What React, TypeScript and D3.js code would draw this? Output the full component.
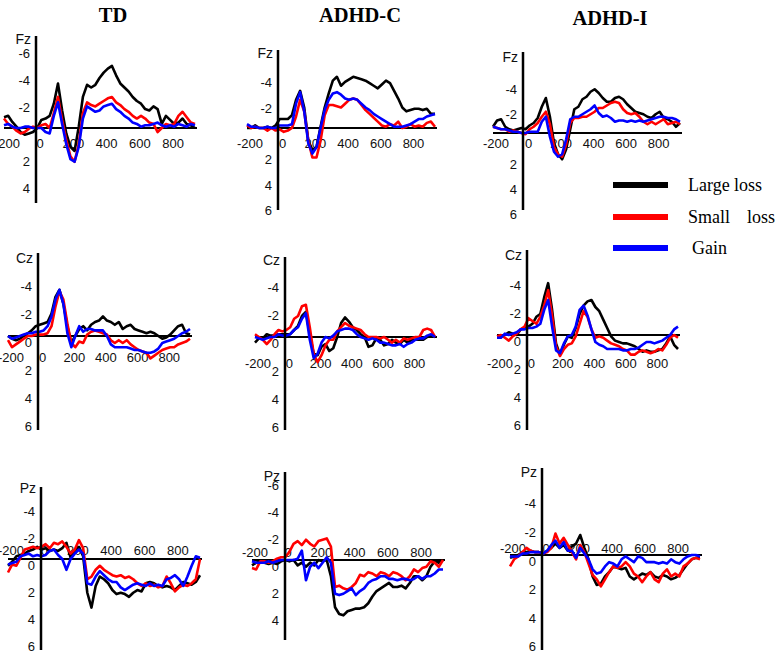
import React from 'react';
import * as d3 from 'd3';

// sampling grid of the averaged waveforms (ms)
const times = d3.range(-200, 951, 25);
const xTickValues = [-200, 0, 200, 400, 600, 800];
const groups = ['TD', 'ADHD-C', 'ADHD-I'];
const conditions = ['Large loss', 'Small loss', 'Gain'];
const colors = ['#000000', '#ff0000', '#0000ff'];

// amplitudes in µV, negative plotted upward
const tdFzLarge = [-0.8,-0.9,-0.45,-0.1,0.3,0.5,0.4,0.3,0,-0.6,-0.7,-0.9,-1.8,-3.3,-1.3,0.4,1.4,1.7,-0.1,-2.3,-3.2,-3.0,-3.2,-3.7,-4.1,-4.4,-4.6,-3.9,-3.3,-3.0,-2.7,-2.3,-2.0,-1.8,-1.4,-1.3,-1.6,-1.4,-0.3,-0.9,-0.6,-0.3,-0.4,-0.7,-0.3,-0.2,0];
const tdFzSmall = [-0.7,-0.3,-0.1,0.2,0.4,0.3,0.05,-0.1,0,-0.2,-0.3,0,-1.1,-2.3,-0.6,0.9,2.1,2.5,1.2,-1.1,-1.9,-1.7,-1.6,-1.8,-2.0,-2.2,-2.3,-1.9,-1.7,-1.4,-1.2,-0.9,-0.7,-0.9,-0.7,-0.4,-0.3,0.3,0,-0.3,-0.2,-0.3,-0.9,-1.2,-0.8,-0.4,-0.3];
const tdFzGain = [-0.2,-0.3,-0.1,0,0,-0.1,-0.1,0,0,0,0.3,0.4,-0.9,-1.9,-0.3,1.2,2.3,2.5,1.4,-0.7,-1.6,-1.4,-1.2,-1.3,-1.6,-1.7,-1.8,-1.4,-1.2,-0.9,-0.7,-0.4,-0.3,-0.1,-0.2,-0.2,-0.3,-0.4,-0.2,-0.1,-0.2,-0.1,-0.3,-0.2,-0.1,-0.3,-0.2];

const adhdcFzLarge = [0,0,-0.2,0,0,-0.1,0,-0.2,-0.7,-0.7,-0.7,-1.0,-2.2,-2.9,-1.6,1.0,1.7,1.5,-0.1,-1.6,-2.7,-3.7,-4.0,-3.3,-3.6,-3.8,-4.0,-3.9,-3.8,-3.7,-3.5,-3.3,-3.1,-3.4,-3.7,-3.5,-2.9,-2.3,-1.6,-1.3,-1.4,-1.5,-1.5,-1.4,-1.5,-1.1,-1.1];
const adhdcFzSmall = [-0.2,0,-0.1,0,0,0.2,0,0.2,0.1,0.3,0.2,0,-0.9,-2.2,-1.3,1.0,2.3,2.3,1.0,-1.0,-1.8,-1.8,-1.7,-1.6,-1.9,-2.2,-2.3,-2.2,-1.8,-1.4,-1.1,-0.8,-0.5,-0.2,-0.1,-0.3,-0.2,-0.5,0,-0.1,-0.3,-0.1,-0.2,-0.1,-0.4,-0.5,-0.1];
const adhdcFzGain = [-0.3,-0.1,-0.1,0,0,-0.1,0,0,-0.2,-0.2,-0.2,-0.3,-1.9,-2.8,-1.3,1.2,2.0,1.5,0,-1.4,-2.2,-2.7,-2.8,-2.6,-2.3,-2.2,-2.3,-2.2,-1.9,-1.6,-1.4,-1.1,-0.9,-0.7,-0.5,-0.3,-0.1,-0.1,-0.1,-0.2,-0.3,-0.5,-0.7,-0.7,-0.9,-1.0,-1.1];

const adhdiFzLarge = [-0.5,-1.0,-1.1,-0.5,-0.3,-0.2,-0.3,-0.4,-0.3,-0.6,-0.8,-1.2,-2.1,-2.8,-1.3,0.8,1.7,2.1,1.3,-0.3,-1.9,-2.1,-2.7,-2.9,-3.3,-3.5,-3.2,-2.8,-2.5,-2.5,-2.8,-2.9,-2.7,-2.3,-2.0,-1.7,-1.6,-1.5,-1.3,-1.2,-1.5,-1.7,-1.2,-1.1,-0.9,-0.5,-0.8];
const adhdiFzSmall = [-0.5,-0.4,-0.3,-0.3,-0.1,-0.2,-0.1,0,0.1,-0.3,-0.5,-0.8,-1.3,-1.7,-0.7,1.1,1.7,1.9,0.9,-0.8,-1.2,-1.2,-1.3,-1.3,-1.5,-1.7,-2.0,-2.0,-2.2,-2.4,-2.5,-2.4,-1.9,-1.6,-1.5,-1.6,-1.3,-0.9,-0.7,-0.9,-0.7,-0.9,-1.1,-0.7,-0.8,-0.9,-0.7];
const adhdiFzGain = [-0.5,-0.4,-0.3,-0.3,-0.2,-0.1,-0.1,0,0,-0.1,-0.1,-0.1,-0.9,-1.3,0.3,1.5,1.9,1.7,0.5,-1.1,-1.3,-1.3,-1.5,-1.7,-1.9,-2.2,-1.6,-1.3,-1.4,-1.2,-0.9,-1.0,-1.0,-0.9,-1.0,-0.9,-1.0,-0.9,-1.0,-1.1,-1.2,-1.3,-1.3,-1.2,-1.2,-1.1,-0.9];

const tdCzLarge = [0,0.2,0.3,0.2,0,-0.2,-0.4,-0.7,-0.8,-0.9,-1.0,-1.6,-2.8,-3.3,-2.3,-0.7,0.5,0,-0.5,-0.7,-0.4,-0.8,-1.0,-1.1,-1.4,-1.1,-1.0,-0.8,-1.0,-0.5,-0.7,-0.8,-0.5,-0.4,-0.3,-0.2,-0.3,-0.2,0,0.2,0.1,-0.1,-0.4,-0.7,-0.8,-0.2,-0.1];
const tdCzSmall = [0.3,0.8,0.6,0.4,0.2,0,0,-0.1,-0.1,-0.1,-0.2,-0.7,-2.1,-3.2,-2.6,-0.9,0.5,0.8,0.4,0.5,-0.1,-0.3,-0.4,-0.3,-0.2,-0.1,0.3,0.5,0.3,0.5,0.3,0.6,0.8,1.0,1.1,1.2,1.6,1.4,1.2,1.0,0.9,0.8,0.8,0.6,0.5,0.4,0.2];
const tdCzGain = [0,0.2,0.1,0,-0.1,-0.2,-0.2,-0.3,-0.3,-0.4,-0.7,-1.4,-2.6,-3.3,-2.3,-0.2,0.8,0,-0.7,-0.3,-0.5,-0.5,-0.4,-0.4,-0.4,0,0.6,0.8,0.8,0.8,0.8,0.9,1.0,1.0,1.1,1.2,1.2,1.1,0.9,0.5,0.4,0.3,0.2,0,-0.2,-0.3,-0.5];

const adhdcCzLarge = [0.4,0.1,0.1,-0.2,-0.1,-0.1,-0.2,-0.2,-0.2,-0.2,-0.5,-0.8,-1.5,-1.8,-0.2,1.2,1.3,0.7,0.5,1.0,0.8,0,-1.0,-1.4,-1.1,-0.7,-0.5,-0.2,0,0.7,0.6,0.1,0.2,0.6,0.5,0.2,0.4,0.5,0.2,0.4,0.2,0.2,0.2,0.2,0,-0.1,0];
const adhdcCzSmall = [-0.2,0,0.2,0.5,0.2,-0.2,-0.5,-0.4,-0.5,-0.7,-1.3,-1.5,-2.2,-2.3,-0.7,1.2,1.8,1.3,0.6,0.2,0.2,-0.4,-0.7,-1.0,-0.8,-0.7,-0.6,-0.5,-0.2,0,0,0,0.1,0,0.2,0.4,0.2,0.4,0.1,0.2,0.1,0,0,-0.5,-0.6,-0.5,0];
const adhdcCzGain = [0,0.1,0.2,0.1,0,0,-0.2,-0.1,-0.1,-0.2,-0.5,-0.7,-1.3,-1.7,0.2,1.5,1.2,0.4,0,0.1,-0.1,-0.4,-0.5,-0.6,-0.6,-0.5,-0.2,0,0.1,0.2,0.1,0.2,0.4,0.4,0.5,0.6,0.6,0.5,0.7,0.5,0.4,0.2,0.1,0.1,-0.1,-0.2,0];

const adhdiCzLarge = [0.1,0.1,0,-0.2,-0.1,0,-0.4,-0.5,-0.6,-0.8,-1.3,-1.5,-2.7,-3.7,-1.8,0.6,1.4,0.7,0.1,0.2,-0.5,-1.5,-2.1,-2.4,-2.5,-2.0,-1.7,-1.1,-0.5,0.1,0.4,0.5,0.6,0.6,0.7,0.8,1.0,1.2,1.1,1.2,1.2,1.1,1.0,0.6,0.1,0.7,1.0];
const adhdiCzSmall = [0.1,0,0.2,0.4,0.1,-0.1,-0.4,-0.6,-1.2,-1.0,-0.8,-1.3,-2.1,-3.2,-1.4,0.8,1.5,1.0,0.7,0.6,0.1,-0.8,-1.7,-1.3,-0.4,0.2,0.1,0.2,0.4,0.6,0.7,0.8,1.0,1.1,1.4,1.4,1.2,1.1,1.2,1.3,1.2,1.0,1.1,0.7,0.2,0,0.2];
const adhdiCzGain = [0.2,0.2,-0.1,0,-0.1,-0.2,-0.4,-0.4,-0.5,-0.5,-0.6,-0.8,-1.8,-2.5,-0.6,1.1,1.3,0.6,0.1,0,-0.6,-1.8,-2.1,-1.4,-0.4,0.5,0.7,0.8,1.0,1.0,1.0,1.0,1.1,1.1,1.0,1.0,0.9,0.7,0.5,0.5,0.6,0.5,0.4,0.2,0,-0.4,-0.6];

const tdPzLarge = [0.5,0.2,-0.2,-0.3,-0.4,-0.6,-0.7,-0.9,-0.7,-0.8,-0.6,-0.7,-0.6,-0.8,-1.2,-0.1,-0.6,-0.9,-0.2,2.5,3.6,2.0,1.3,1.5,1.8,2.3,2.6,2.5,2.6,2.8,2.5,2.3,2.4,1.8,1.7,1.8,2.0,2.1,2.0,2.1,2.3,2.0,1.7,1.8,1.9,1.7,1.2];
const tdPzSmall = [1.0,0.4,0.5,-0.1,-0.7,-0.8,-0.9,-0.8,-0.9,-1.1,-0.8,-1.2,-1.1,-1.3,-0.9,-0.4,-0.7,-1.4,-0.8,1.5,1.3,0.8,0.5,0.8,1.0,1.2,1.3,1.2,1.4,1.3,1.5,1.8,2.0,1.8,2.0,1.9,2.1,2.0,1.3,1.8,2.4,2.1,1.9,2.0,1.8,1.5,0];
const tdPzGain = [0.4,0.3,0.2,-0.2,-0.3,-0.4,-0.2,-0.3,-0.2,-0.3,-0.6,-0.7,-0.3,0,0.8,0,-0.4,-0.7,-0.4,1.8,1.9,1.3,0.9,1.2,1.5,1.7,1.7,2.1,2.3,2.1,1.9,1.8,1.9,2.0,1.8,2.0,1.9,2.0,1.5,1.4,1.2,1.5,2.0,1.3,0.5,-0.2,-0.1];

const adhdcPzLarge = [0.4,0.2,0.1,0.2,0.3,0.2,0.3,0.1,0,0.1,0,0.4,0.2,0.5,0.2,0.4,0,0.1,0,1.2,3.5,4.0,4.1,3.8,3.7,3.6,3.6,3.5,3.2,2.7,2.3,2.1,1.9,1.7,2.0,2.0,1.9,2.1,1.7,1.2,1.2,1.5,1.2,0.5,0.1,0.2,0];
const adhdcPzSmall = [0.6,0.7,0.1,0.1,0.2,0.1,-0.1,-0.2,-0.2,-0.6,-1.2,-1.4,-1.1,-1.5,-1.2,-1.0,-1.4,-1.5,-1.6,-1.0,2.0,1.9,2.1,2.2,2.0,1.7,1.1,1.2,0.9,1.0,1.2,0.9,1.0,1.2,0.9,1.0,1.2,1.5,1.2,0.7,0.9,0.6,0.5,0.1,0.2,0.5,0];
const adhdcPzGain = [0.1,0.2,0.2,0.2,0.1,0.2,0.1,0,0,0,0,-0.1,-0.7,1.5,0.5,0.2,0.6,0.2,-0.2,0.2,2.5,2.6,2.5,2.3,2.1,2.6,2.3,2.1,1.7,1.5,1.4,1.2,1.2,1.4,1.4,1.5,1.4,1.4,1.5,1.4,1.2,1.4,1.2,1.2,1.0,0.7,0.7];

const adhdiPzLarge = [0.2,0.1,0,-0.2,-0.2,-0.3,-0.2,-0.2,-0.1,-0.3,-0.5,-0.8,-0.5,-0.7,-0.3,-0.6,-0.8,-1.4,-0.5,0.3,1.5,2.1,2.0,1.5,1.2,0.8,0.9,1.0,0.9,1.5,1.7,1.5,1.3,1.4,1.2,1.5,1.6,1.4,1.5,1.7,1.6,1.4,1.0,0.6,0.3,0.2,0.2];
const adhdiPzSmall = [0.8,0.3,0.1,-0.2,-0.5,-0.3,-0.2,-0.2,-0.1,-0.2,-0.5,-1.5,-0.8,-1.2,-0.7,-0.2,0.3,-0.7,-0.2,0.6,1.4,1.7,2.2,1.7,1.2,0.8,0.9,0.8,0.5,0.8,1.3,1.5,1.9,1.5,1.2,1.7,1.9,1.3,1.0,1.5,1.3,1.5,0.8,0.6,0.3,0.2,0.3];
const adhdiPzGain = [0.1,0.1,0.1,-0.1,-0.1,-0.2,-0.2,-0.2,-0.1,-0.3,-0.7,-1.0,-0.5,-0.9,-0.3,-0.3,0.2,-0.5,-0.1,0.3,1.0,1.3,1.2,0.8,0.5,0.6,0.8,0.3,0.1,0.3,0.5,0.1,0.2,0.5,0.5,0.5,0.6,0.5,0.6,0.3,0.5,0.6,0.3,0.1,0,0,0.1];

// hand-placed panel geometry, as in the original figure
const panels = [
  { site: 'Fz', series: [tdFzLarge, tdFzSmall, tdFzGain], axisX: 36, zeroY: 128, unit: 13.5, x0: 4, x1: 195, top: 36, bottom: 203, yTicks: [-6, -4, -2, 2, 4], siteY: 39, xLabelY: 143 },
  { site: 'Fz', series: [adhdcFzLarge, adhdcFzSmall, adhdcFzGain], axisX: 278, zeroY: 128, unit: 12.8, x0: 247, x1: 435, top: 50, bottom: 210, yTicks: [-4, -2, 2, 4, 6], siteY: 53, xLabelY: 143 },
  { site: 'Fz', series: [adhdiFzLarge, adhdiFzSmall, adhdiFzGain], axisX: 523, zeroY: 133, unit: 12.5, x0: 493, x1: 680, top: 52, bottom: 210, yTicks: [-4, -2, 2, 4, 6], siteY: 57, xLabelY: 143 },
  { site: 'Cz', series: [tdCzLarge, tdCzSmall, tdCzGain], axisX: 38, zeroY: 336, unit: 14, x0: 8, x1: 190, top: 253, bottom: 430, yTicks: [-4, -2, 0, 2, 4, 6], siteY: 258, xLabelY: 357 },
  { site: 'Cz', series: [adhdcCzLarge, adhdcCzSmall, adhdcCzGain], axisX: 285, zeroY: 337, unit: 14, x0: 255, x1: 435, top: 257, bottom: 430, yTicks: [-4, -2, 0, 2, 4, 6], siteY: 260, xLabelY: 363 },
  { site: 'Cz', series: [adhdiCzLarge, adhdiCzSmall, adhdiCzGain], axisX: 527, zeroY: 335, unit: 14, x0: 497, x1: 678, top: 250, bottom: 430, yTicks: [-4, -2, 0, 2, 4, 6], siteY: 255, xLabelY: 363 },
  { site: 'Pz', series: [tdPzLarge, tdPzSmall, tdPzGain], axisX: 41, zeroY: 559, unit: 13.5, x0: 8, x1: 200, top: 487, bottom: 650, yTicks: [-4, -2, 0, 2, 4, 6], siteY: 488, xLabelY: 550 },
  { site: 'Pz', series: [adhdcPzLarge, adhdcPzSmall, adhdcPzGain], axisX: 285, zeroY: 560, unit: 13.5, x0: 252, x1: 443, top: 472, bottom: 640, yTicks: [-6, -4, -2, 0, 2, 4], siteY: 476, xLabelY: 552 },
  { site: 'Pz', series: [adhdiPzLarge, adhdiPzSmall, adhdiPzGain], axisX: 542, zeroY: 555, unit: 14.3, x0: 510, x1: 700, top: 468, bottom: 650, yTicks: [-4, -2, 0, 2, 4, 6], siteY: 472, xLabelY: 548 },
];

const titlePos = [
  { x: 113, y: 22 },
  { x: 360, y: 22 },
  { x: 610, y: 25 },
];

const tickFont = '"Liberation Sans Narrow", "Liberation Sans", Arial, sans-serif';
const serifFont = '"Liberation Serif", "Times New Roman", serif';

function Panel({ p }) {
  const x = d3.scaleLinear().domain([-200, 950]).range([p.x0, p.x1]);
  const y = d3.scaleLinear().domain([0, 1]).range([p.zeroY, p.zeroY + p.unit]);
  const line = d3
    .line<number>()
    .x((_, i) => x(times[i]))
    .y(d => y(d));

  return (
    <g fontFamily={tickFont} fontSize={13} fill="#111">
      {p.yTicks.map(v => (
        <text key={'y' + v} x={p.axisX - 6} y={y(v) + 6} textAnchor="end" dominantBaseline="central">
          {v}
        </text>
      ))}
      {xTickValues.map(v => (
        <text key={'x' + v} x={x(v) + 3} y={p.xLabelY} textAnchor="middle" dominantBaseline="central">
          {v}
        </text>
      ))}
      <text x={p.axisX - 5} y={p.siteY} textAnchor="end" dominantBaseline="central" fontSize={14}>
        {p.site}
      </text>
      <line x1={p.x0} x2={p.x1 + 2} y1={p.zeroY} y2={p.zeroY} stroke="#000" strokeWidth={2} />
      {p.series.map((s, i) => (
        <path key={i} d={line(s) || ''} fill="none" stroke={colors[i]} strokeWidth={2.6} strokeLinejoin="round" />
      ))}
      <line x1={p.axisX} x2={p.axisX} y1={p.top} y2={p.bottom} stroke="#000" strokeWidth={2.5} />
    </g>
  );
}

export default function App() {
  const legendY = [185, 217, 248];
  return (
    <svg width={782} height={658} style={{ position: 'absolute', left: 0, top: 0, background: '#fff' }}>
      <rect width={782} height={658} fill="#fff" />
      {groups.map((g, i) => (
        <text key={g} x={titlePos[i].x} y={titlePos[i].y} textAnchor="middle" fontFamily={serifFont} fontWeight="bold" fontSize={20.5}>
          {g}
        </text>
      ))}
      {panels.map((p, i) => (
        <Panel key={i} p={p} />
      ))}
      <g fontFamily={serifFont} fontSize={18}>
        {conditions.map((c, i) => {
          const [first, second] = c.split(' ');
          return (
            <g key={c}>
              <line x1={613} x2={668} y1={legendY[i]} y2={legendY[i]} stroke={colors[i]} strokeWidth={6} />
              <text x={i === 2 ? 692 : 688} y={legendY[i]} dominantBaseline="central">
                {first}
              </text>
              {second && (
                <text x={i === 0 ? 734 : 747} y={legendY[i]} dominantBaseline="central">
                  {second}
                </text>
              )}
            </g>
          );
        })}
      </g>
    </svg>
  );
}
